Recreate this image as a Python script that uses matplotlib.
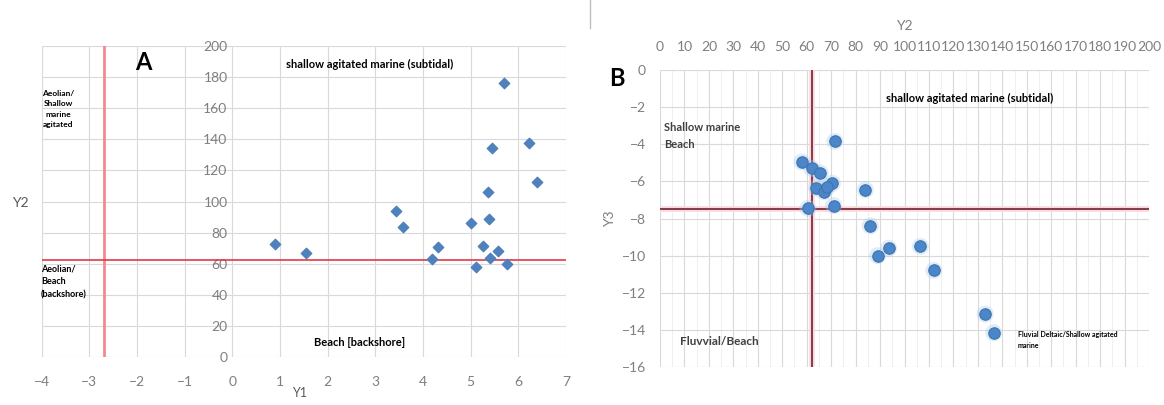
import matplotlib.pyplot as plt
import numpy as np

plt.rcParams['font.family'] = ['Lato', 'DejaVu Sans']

# Panel A data (Y1 vs Y2)
a_y1 = [0.9, 1.55, 3.43, 3.57, 4.19, 4.31, 5.0, 5.12, 5.26, 5.37, 5.38, 5.41, 5.45, 5.57, 5.70, 5.77, 6.23, 6.40]
a_y2 = [72.7, 66.7, 93.6, 83.5, 63.0, 70.6, 86.3, 58.1, 71.6, 106.3, 88.8, 63.5, 134.5, 68.4, 175.9, 60.0, 137.7, 112.5]
a_vline = -2.7
a_hline = 62.5

# Panel B data (Y2 vs Y3)
b_y2 = [58, 62, 65.5, 70.5, 64, 67, 68.5, 71.5, 60.5, 71, 84, 86, 89, 93.5, 106.5, 112, 133, 136.5]
b_y3 = [-4.95, -5.3, -5.55, -6.1, -6.35, -6.55, -6.3, -3.85, -7.45, -7.3, -6.45, -8.4, -10.0, -9.6, -9.5, -10.8, -13.15, -14.15]
b_vline = 62
b_hline = -7.5

grid_c = '#d9d9d9'
tick_c = '#7f7f7f'

fig = plt.figure(figsize=(11.64, 4.05), dpi=100)

# ---------------- Panel A
axA = fig.add_axes([41.7/1164, 1-357/405, (566-41.7)/1164, (357-46)/405])
axA.set_xlim(-4, 7)
axA.set_ylim(0, 200)
axA.set_xticks(np.arange(-4, 8, 1))
axA.set_yticks(np.arange(0, 201, 20))
axA.grid(True, color=grid_c, lw=0.8)
axA.set_axisbelow(True)
for s in axA.spines.values():
    s.set_visible(False)
axA.spines['left'].set_position(('data', 0))
axA.tick_params(length=0, colors=tick_c, labelsize=10)
axA.tick_params(axis='x', pad=14)
axA.axvline(a_vline, color='#f08a8e', lw=2)
axA.axhline(a_hline, color='#e03a44', lw=1.2)
axA.scatter(a_y1, a_y2, marker='D', s=28, color='#4f81bd', edgecolors='#4f81bd', zorder=3)

fig.text(143/1164, 1-62/405, 'A', fontsize=17, fontweight='bold', ha='center', va='center')
fig.text(370/1164, 1-64/405, 'shallow agitated marine (subtidal)', fontsize=8, fontweight='bold',
         ha='center', va='center')
fig.text(360/1164, 1-343/405, 'Beach [backshore]', fontsize=8, fontweight='bold', ha='center', va='center')
fig.text(58/1164, 1-109/405, 'Aeolian/\nShallow\nmarine\nagitated', fontsize=6, fontweight='bold',
         ha='center', va='center', multialignment='center', linespacing=1.6)
fig.text(41/1164, 1-282/405, 'Aeolian/\nBeach\n(backshore)', fontsize=6.5, fontweight='bold',
         ha='left', va='center', linespacing=1.6)
fig.text(300/1164, 1-393/405, 'Y1', fontsize=9, color='#595959', ha='center', va='center')
fig.text(20/1164, 1-203/405, 'Y2', fontsize=10, color='#595959', ha='center', va='center')

# separator
fig.add_artist(plt.Line2D([590/1164, 590/1164], [1.0, 1-28/405], color='#bfbfbf', lw=1))

# ---------------- Panel B
axB = fig.add_axes([660/1164, 1-367/405, (1149-660)/1164, (367-70)/405])
axB.set_xlim(0, 200)
axB.set_ylim(-16, 0)
axB.set_xticks(np.arange(0, 201, 10))
axB.set_yticks(np.arange(-16, 1, 2))
axB.set_xticks(np.arange(0, 201, 5), minor=True)
axB.grid(True, which='major', color=grid_c, lw=0.8)
axB.grid(True, which='minor', axis='x', color='#ededed', lw=0.6)
axB.set_axisbelow(True)
for s in axB.spines.values():
    s.set_visible(False)
axB.xaxis.tick_top()
axB.xaxis.set_label_position('top')
axB.tick_params(which='both', length=0, colors=tick_c, labelsize=10)
axB.tick_params(axis='x', pad=12)
axB.tick_params(axis='y', pad=10)
axB.set_xlabel('Y2', color='#7f7f7f', fontsize=10, labelpad=8)
axB.set_ylabel('Y3', color='#7f7f7f', fontsize=10, labelpad=4)

axB.axvline(b_vline, color='#f8d9dd', lw=4)
axB.axvline(b_vline, color='#7b2e3e', lw=1.3)
axB.axhline(b_hline, color='#f8d9dd', lw=4)
axB.axhline(b_hline, color='#7b2e3e', lw=1.3)

axB.scatter(b_y2, b_y3, s=150, color='#a9cbee', alpha=0.35, edgecolors='none', zorder=3)
axB.scatter(b_y2, b_y3, s=68, color='#4a86c8', edgecolors='#3f74b0', lw=0.8, zorder=4)

fig.text(617/1164, 1-78/405, 'B', fontsize=17, fontweight='bold', ha='center', va='center')
fig.text(970/1164, 1-98/405, 'shallow agitated marine (subtidal)', fontsize=8, fontweight='bold',
         ha='center', va='center')
fig.text(664/1164, 1-136/405, 'Shallow marine\nBeach', fontsize=8, fontweight='bold', color='#404040',
         ha='left', va='center', linespacing=1.6)
axB.text(8, -14.6, 'Fluvvial/Beach', fontsize=8.5, fontweight='bold', color='#404040',
         ha='left', va='center')
fig.text(1018/1164, 1-340/405, 'Fluvial Deltaic/Shallow agitated\nmarine', fontsize=5, fontweight='bold',
         ha='left', va='center', linespacing=1.7)

plt.savefig('out.png', dpi=100)
